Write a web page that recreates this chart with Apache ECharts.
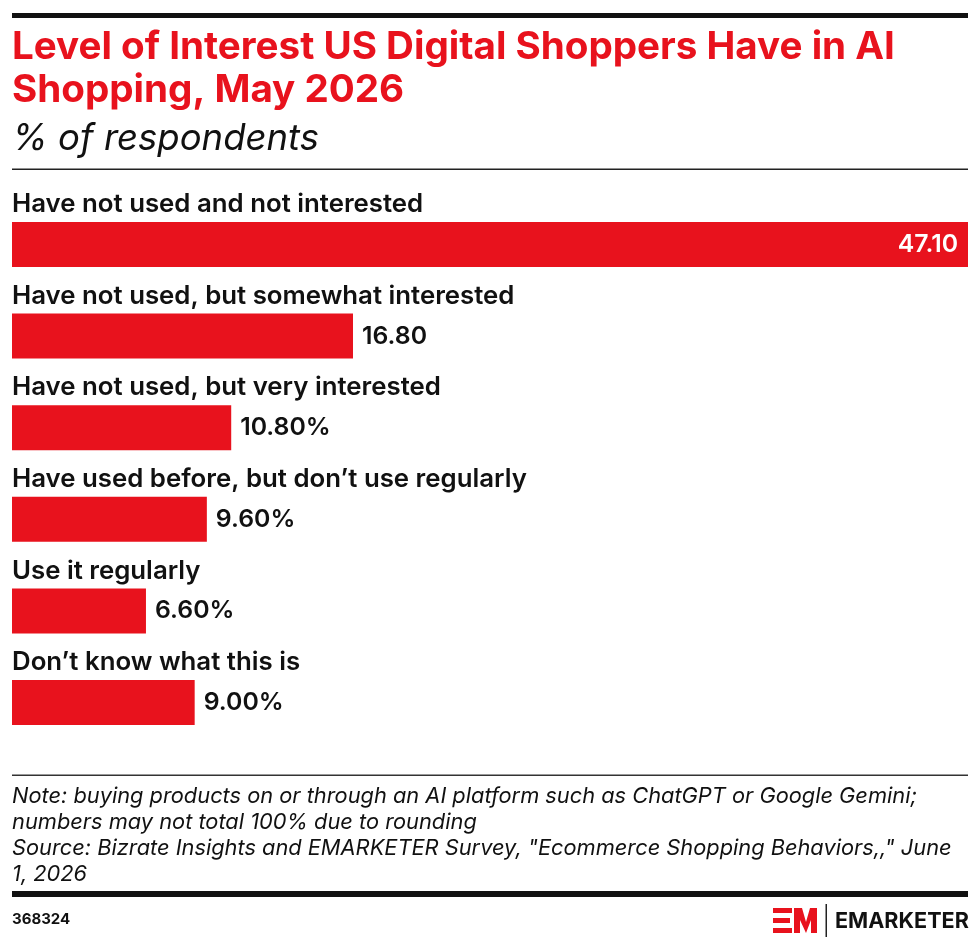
<!DOCTYPE html>
<html>
<head>
<meta charset="utf-8">
<script src="https://cdn.jsdelivr.net/npm/echarts@6/dist/echarts.min.js"></script>
<style>
  html, body { margin: 0; padding: 0; background: #fff; }
  #chart { width: 980px; height: 947px; }
</style>
</head>
<body>
<div id="chart"></div>
<script>
const categories = [
  "Have not used and not interested",
  "Have not used, but somewhat interested",
  "Have not used, but very interested",
  "Have used before, but don\u2019t use regularly",
  "Use it regularly",
  "Don\u2019t know what this is"
];
const values = [47.1, 16.8, 10.8, 9.6, 6.6, 9.0];
const valueLabels = ["47.10", "16.80", "10.80%", "9.60%", "6.60%", "9.00%"];

const RED = "#e8121d";
const FONT = "Inter, 'Noto Sans', sans-serif";

const noteLines = [
  "Note: buying products on or through an AI platform such as ChatGPT or Google Gemini;",
  "numbers may not total 100% due to rounding",
  "Source: Bizrate Insights and EMARKETER Survey, \"Ecommerce Shopping Behaviors,,\" June",
  "1, 2026"
];

const chart = echarts.init(document.getElementById("chart"), null, { renderer: "canvas" });

// bar data; the biggest bar carries its label inside
const barData = values.map((v, i) => {
  const inside = v === Math.max(...values);
  return {
    value: v,
    label: inside
      ? { position: "insideRight", color: "#fff", distance: 10 }
      : { position: "right", color: "#111", distance: 9 }
  };
});

const graphics = [
  { type: "rect", shape: { x: 12, y: 13, width: 956, height: 5 }, style: { fill: "#111" } },
  { type: "text", x: 12, y: 47, style: { text: "Level of Interest US Digital Shoppers Have in AI", fill: RED, font: "700 38.6px " + FONT, verticalAlign: "middle" } },
  { type: "text", x: 12, y: 90, style: { text: "Shopping, May 2026", fill: RED, font: "700 38.6px " + FONT, verticalAlign: "middle" } },
  { type: "text", x: 12, y: 139, style: { text: "% of respondents", fill: "#111", font: "italic 400 36.5px " + FONT, verticalAlign: "middle" } },
  { type: "rect", shape: { x: 12, y: 168.5, width: 956, height: 1.5 }, style: { fill: "#222" } },
  { type: "rect", shape: { x: 12, y: 774.5, width: 956, height: 1.5 }, style: { fill: "#333" } },
  { type: "rect", shape: { x: 12, y: 891, width: 956, height: 6 }, style: { fill: "#111" } },
  { type: "text", x: 12, y: 919, style: { text: "368324", fill: "#111", font: "700 15px " + FONT, verticalAlign: "middle" } },
  // EM mark
  { type: "rect", shape: { x: 773, y: 908, width: 19, height: 5 }, style: { fill: RED } },
  { type: "rect", shape: { x: 773, y: 918, width: 17, height: 5 }, style: { fill: RED } },
  { type: "rect", shape: { x: 773, y: 928, width: 19, height: 5 }, style: { fill: RED } },
  { type: "polygon", shape: { points: [[794, 908], [802, 908], [806, 922], [810, 908], [817, 908], [817, 933], [811, 933], [811, 920], [806, 933], [800, 920], [800, 933], [794, 933]] }, style: { fill: RED } },
  { type: "rect", shape: { x: 825.5, y: 904, width: 1.5, height: 33 }, style: { fill: "#222" } },
  { type: "text", x: 835, y: 921, style: { text: "EMARKETER", fill: "#111", font: "700 21.6px " + FONT, verticalAlign: "middle" } }
];
noteLines.forEach((t, i) => {
  graphics.push({ type: "text", x: 12, y: 796 + i * 26.3, style: { text: t, fill: "#111", font: "italic 400 21.8px " + FONT, verticalAlign: "middle" } });
});

chart.setOption({
  animation: false,
  backgroundColor: "#fff",
  grid: { left: 12, right: 12, top: 198.7, bottom: 198.7, containLabel: false },
  xAxis: { type: "value", min: 0, max: 47.1, show: false },
  yAxis: {
    type: "category",
    inverse: true,
    data: categories,
    z: 5,
    axisLine: { show: false },
    axisTick: { show: false },
    splitLine: { show: false },
    axisLabel: {
      inside: true,
      margin: 0,
      align: "left",
      verticalAlign: "bottom",
      lineHeight: 80,
      color: "#111",
      fontFamily: FONT,
      fontWeight: 600,
      fontSize: 25.8
    }
  },
  series: [{
    type: "bar",
    data: barData,
    barWidth: 45,
    itemStyle: { color: RED },
    label: {
      show: true,
      fontFamily: FONT,
      fontWeight: 600,
      fontSize: 24.8,
      formatter: p => valueLabels[p.dataIndex]
    }
  }],
  graphic: graphics
});
</script>
</body>
</html>
